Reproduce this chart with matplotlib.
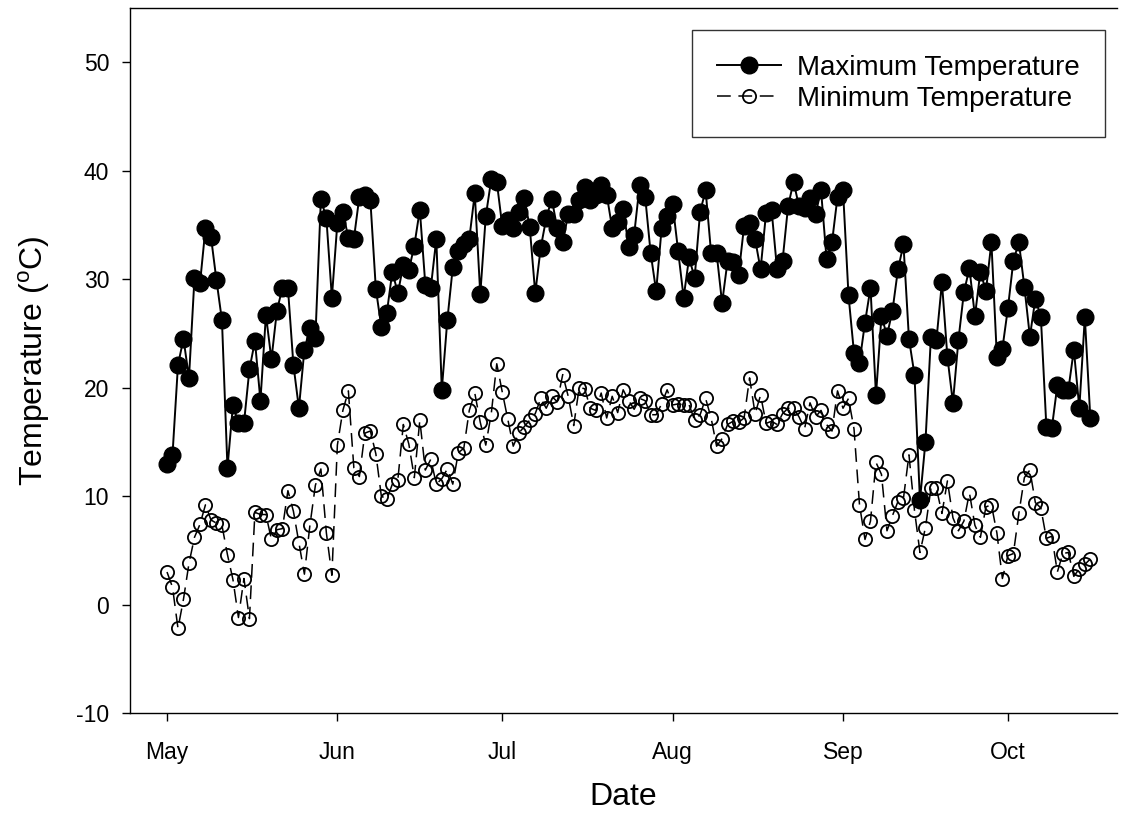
import numpy as np
import pandas as pd
import matplotlib
matplotlib.use("Agg")
import matplotlib.pyplot as plt
import matplotlib.dates as mdates

plt.rcParams['font.family'] = ['Liberation Sans', 'DejaVu Sans']
plt.rcParams['axes.unicode_minus'] = False

# daily values, 1 May - 16 Oct
start_date = "2013-05-01"

t_max = [
    # May
    13.0, 13.8, 22.1, 24.5, 20.9, 30.1, 29.6, 34.7, 33.9, 29.9, 26.2, 12.6, 18.4, 16.7, 16.7, 21.7,
    24.3, 18.8, 26.7, 22.6, 27.1, 29.2, 29.2, 22.1, 18.1, 23.5, 25.5, 24.6, 37.4, 35.6, 28.3,
    # Jun
    35.2, 36.2, 33.8, 33.7, 37.6, 37.8, 37.3, 29.1, 25.6, 26.9, 30.7, 28.7, 31.3, 30.8, 33.1,
    36.4, 29.5, 29.2, 33.7, 19.8, 26.2, 31.1, 32.6, 33.2, 33.7, 37.9, 28.6, 35.8, 39.2, 39.0,
    # Jul
    34.9, 35.5, 34.7, 36.2, 37.5, 34.8, 28.7, 32.9, 35.6, 37.4, 34.7, 33.4, 36.0, 36.0, 37.3, 38.5,
    37.3, 37.8, 38.7, 37.8, 34.7, 35.3, 36.5, 33.0, 34.1, 38.7, 37.6, 32.4, 28.9, 34.7, 35.8,
    # Aug
    36.9, 32.6, 28.3, 32.0, 30.1, 36.2, 38.2, 32.4, 32.4, 27.8, 31.7, 31.6, 30.4, 34.9, 35.2, 33.7,
    30.9, 36.1, 36.4, 30.9, 31.7, 36.7, 39.0, 36.7, 36.6, 37.5, 36.0, 38.2, 31.9, 33.4, 37.6,
    # Sep
    38.2, 28.5, 23.2, 22.3, 26.0, 29.2, 19.3, 26.6, 24.8, 27.1, 30.9, 33.2, 24.5, 21.2, 9.6,
    15.0, 24.7, 24.4, 29.7, 22.8, 18.6, 24.4, 28.8, 31.0, 26.6, 30.7, 28.9, 33.4, 22.8, 23.6,
    # Oct
    27.3, 31.7, 33.4, 29.3, 24.7, 28.2, 26.5, 16.4, 16.3, 20.2, 19.8, 19.8, 23.5, 18.1, 26.5, 17.2,
]

t_min = [
    # May
    3.0, 1.6, -2.2, 0.5, 3.8, 6.2, 7.4, 9.2, 7.8, 7.5, 7.3, 4.6, 2.3, -1.2, 2.4, -1.3,
    8.5, 8.3, 8.3, 6.0, 6.9, 7.0, 10.5, 8.6, 5.7, 2.8, 7.3, 11.0, 12.5, 6.6, 2.7,
    # Jun
    14.7, 17.9, 19.7, 12.6, 11.8, 15.8, 16.0, 13.9, 10.0, 9.7, 11.1, 11.5, 16.6, 14.8, 11.7,
    17.0, 12.4, 13.4, 11.1, 11.6, 12.5, 11.1, 14.0, 14.4, 17.9, 19.5, 16.8, 14.7, 17.6, 22.2,
    # Jul
    19.6, 17.1, 14.6, 15.8, 16.4, 17.0, 17.6, 19.0, 18.1, 19.2, 18.7, 21.2, 19.2, 16.5, 20.0, 19.9,
    18.1, 17.9, 19.5, 17.2, 19.2, 17.7, 19.8, 18.8, 18.0, 19.0, 18.8, 17.5, 17.5, 18.5, 19.8,
    # Aug
    18.4, 18.5, 18.4, 18.4, 17.0, 17.5, 19.0, 17.2, 14.6, 15.3, 16.6, 16.9, 16.8, 17.2, 20.9, 17.6,
    19.3, 16.7, 16.9, 16.6, 17.6, 18.1, 18.1, 17.3, 16.2, 18.6, 17.3, 17.9, 16.6, 16.0, 19.7,
    # Sep
    18.1, 19.0, 16.2, 9.2, 6.0, 7.7, 13.1, 12.0, 6.8, 8.2, 9.5, 9.8, 13.8, 8.7, 4.8,
    7.1, 10.7, 10.7, 8.4, 11.4, 8.0, 6.8, 7.7, 10.3, 7.3, 6.2, 9.0, 9.2, 6.6, 2.4,
    # Oct
    4.5, 4.7, 8.4, 11.7, 12.4, 9.4, 8.9, 6.1, 6.3, 3.0, 4.7, 4.8, 2.6, 3.3, 3.7, 4.2,
]

dates = pd.date_range(start_date, periods=len(t_max), freq="D")

fig = plt.figure(figsize=(11.32, 8.31), dpi=100)
ax = fig.add_axes([130/1132, 1 - 713/831, (1117-130)/1132, (713-8)/831])
ax.spines["right"].set_visible(False)

ax.plot(dates, t_max, color="black", lw=1.4, marker="o", ms=12,
        mfc="black", mec="black", label="Maximum Temperature")
ax.plot(dates, t_min, color="black", lw=1.1, ls=(0, (9, 5)), marker="o", ms=9.5,
        mfc="none", mec="black", mew=1.3, label="Minimum Temperature")

ax.set_ylim(-10, 55)
ax.set_yticks([-10, 0, 10, 20, 30, 40, 50])
px_day = 5.496
x0 = pd.Timestamp(start_date) - pd.Timedelta(hours=24 * 37 / px_day)
ax.set_xlim(x0, x0 + pd.Timedelta(hours=24 * 987 / px_day))
ax.xaxis.set_major_locator(mdates.MonthLocator())
ax.xaxis.set_major_formatter(mdates.DateFormatter("%b"))

ax.tick_params(direction="out", length=6, width=1, labelsize=16.5, top=False, right=False)
ax.tick_params(axis="x", pad=14)
ax.tick_params(axis="y", pad=9)
for s in ax.spines.values():
    s.set_linewidth(1.0)

ax.set_xlabel("Date", fontsize=23, labelpad=13)
ax.set_ylabel("Temperature ($^\\mathregular{o}$C)", fontsize=23, labelpad=17)

leg = ax.legend(loc="upper right", bbox_to_anchor=((1105 - 130) / 987, (713 - 30) / 705),
                fontsize=20, frameon=True, fancybox=False, edgecolor="black",
                handlelength=2.3, borderpad=0.9, labelspacing=0.18, handletextpad=0.6,
                borderaxespad=0)
leg.get_frame().set_linewidth(1.0)

fig.savefig("out.png", dpi=100)
